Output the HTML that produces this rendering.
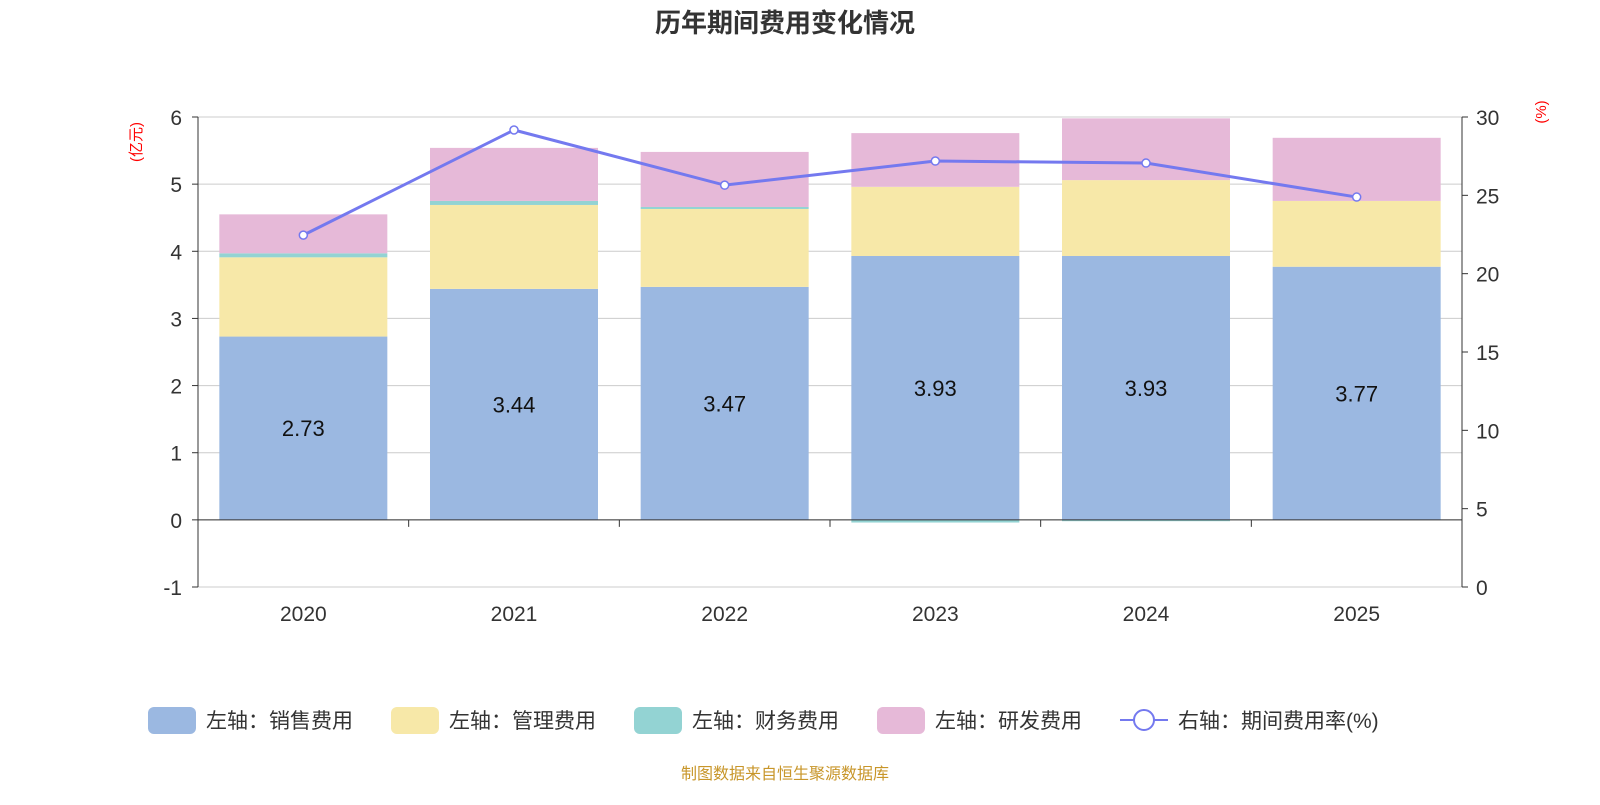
<!DOCTYPE html>
<html><head><meta charset="utf-8">
<style>
html,body{margin:0;padding:0;background:#fff;}
body{width:1600px;height:800px;overflow:hidden;font-family:"Liberation Sans","Noto Sans CJK SC",sans-serif;}
</style></head>
<body>
<svg id="chart" width="1600" height="800" xmlns="http://www.w3.org/2000/svg" font-family="Liberation Sans, Noto Sans CJK SC, sans-serif"></svg>
<script>
const categories=["2020","2021","2022","2023","2024","2025"];
const sales=[2.73,3.44,3.47,3.93,3.93,3.77];
const mgmt=[1.18,1.25,1.16,1.03,1.13,0.98];
const finance=[0.06,0.06,0.03,-0.04,-0.02,0.0];
const rnd=[0.58,0.79,0.82,0.80,0.92,0.94];
const rate=[22.46,29.17,25.65,27.19,27.06,24.89];
const leftTicks=[-1,0,1,2,3,4,5,6];
const rightTicks=[0,5,10,15,20,25,30];

const svg=document.getElementById('chart');
const NS='http://www.w3.org/2000/svg';
function el(tag,attrs,parent){const e=document.createElementNS(NS,tag);for(const k in attrs)e.setAttribute(k,attrs[k]);(parent||svg).appendChild(e);return e;}
const X0=198,X1=1462,YT=117,YB=587;
const yL=v=>YB-(v+1)/7*(YB-YT);
const yR=v=>YB-v/30*(YB-YT);
const band=(X1-X0)/categories.length;
const xC=i=>X0+band*(i+0.5);
const bw=168;

let t=el('text',{x:785,y:32,'text-anchor':'middle','font-size':26,'font-weight':'bold',fill:'#333'});
t.textContent='历年期间费用变化情况';

leftTicks.forEach(v=>{
 const g=el('line',{x1:X0,x2:X1,y1:yL(v),y2:yL(v),stroke:'#ccc','stroke-width':1});
 
 const tl=el('text',{x:182,y:yL(v)+8,'text-anchor':'end','font-size':21,fill:'#333'});
 tl.textContent=v;
 const tk=el('line',{x1:X0-6,x2:X0,y1:yL(v),y2:yL(v),stroke:'#333'});
 
});
rightTicks.forEach(v=>{
 const tl=el('text',{x:1476,y:yR(v)+8,'font-size':21,fill:'#333'});
 tl.textContent=v;
 const tk=el('line',{x1:X1,x2:X1+6,y1:yR(v),y2:yR(v),stroke:'#333'});
 
});
let a=el('line',{x1:X0,x2:X0,y1:YT,y2:YB,stroke:'#333'});
a=el('line',{x1:X1,x2:X1,y1:YT,y2:YB,stroke:'#333'});
let at=el('text',{transform:'translate(141,142) rotate(-90)','text-anchor':'middle','font-size':15,fill:'red'});
at.textContent='(亿元)';
at=el('text',{transform:'translate(1546,112) rotate(-90)','text-anchor':'middle','font-size':15,fill:'red'});
at.textContent='(%)';

const colors=['#9bb8e1','#f7e8a8','#93d3d3','#e6b9d8'];
categories.forEach((c,i)=>{
 let pos=0,neg=0;
 [sales,mgmt,finance,rnd].forEach((arr,k)=>{
  const v=arr[i];let y0,y1;
  if(v>=0){y0=pos;y1=pos+v;pos=y1;}else{y0=neg+v;y1=neg;neg=y0;}
  const r=el('rect',{x:xC(i)-bw/2,y:yL(y1),width:bw,height:Math.max(0,yL(y0)-yL(y1)),fill:colors[k]});
  
  
 });
 const lb=el('text',{x:xC(i),y:yL(sales[i]/2)+8,'text-anchor':'middle','font-size':22,fill:'#111'});
 lb.textContent=sales[i].toFixed(2);
 const xl=el('text',{x:xC(i),y:621,'text-anchor':'middle','font-size':21,fill:'#333'});
 xl.textContent=c;
});
a=el('line',{x1:X0,x2:X1,y1:yL(0),y2:yL(0),stroke:'#333'});
for(let i=0;i<=categories.length;i++){const tk=el('line',{x1:X0+band*i,x2:X0+band*i,y1:yL(0),y2:yL(0)+7,stroke:'#333'});
 }

const pts=rate.map((v,i)=>xC(i)+','+yR(v)).join(' ');
const pl=el('polyline',{points:pts,fill:'none',stroke:'#7479ef','stroke-width':3});

rate.forEach((v,i)=>{const p=el('circle',{cx:xC(i),cy:yR(v),r:4,fill:'#fff',stroke:'#7479ef','stroke-width':1.5});
 });

const legend=[['左轴：销售费用',colors[0],148],['左轴：管理费用',colors[1],391],['左轴：财务费用',colors[2],634],['左轴：研发费用',colors[3],877]];
legend.forEach(([txt,col,x])=>{
 const g=el('g',{});
 el('rect',{x:x,y:707,width:48,height:27,rx:6,fill:col},g);
 const tt=el('text',{x:x+58,y:728,'font-size':21,fill:'#333'},g);tt.textContent=txt;
});
const g=el('g',{});
el('line',{x1:1120,x2:1168,y1:720,y2:720,stroke:'#7479ef','stroke-width':2},g);
el('circle',{cx:1144,cy:720,r:10,fill:'#fff',stroke:'#7479ef','stroke-width':2},g);
const lt=el('text',{x:1178,y:728,'font-size':21,fill:'#333'},g);lt.textContent='右轴：期间费用率(%)';

const ft=el('text',{x:785,y:779,'text-anchor':'middle','font-size':16,fill:'#c8962a'});
ft.textContent='制图数据来自恒生聚源数据库';
</script>
</body></html>
